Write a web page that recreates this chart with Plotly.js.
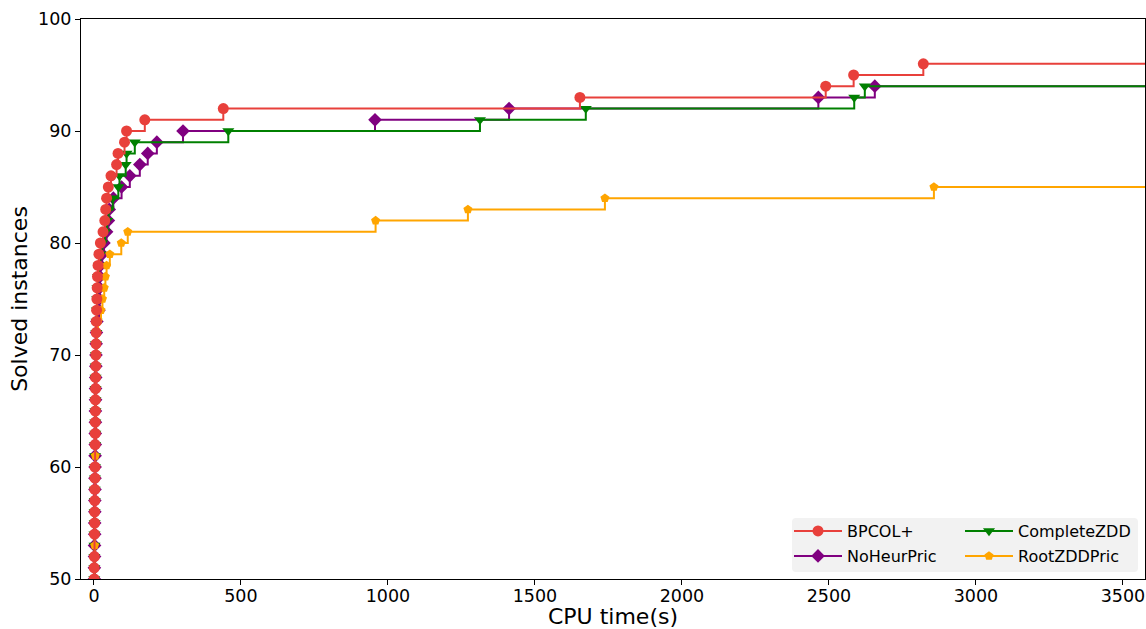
<!DOCTYPE html>
<html>
<head>
<meta charset="utf-8">
<script src="https://cdn.plot.ly/plotly-3.0.1.min.js"></script>
<style>html,body{margin:0;padding:0;background:#fff;}#chart{width:1146px;height:629px;}</style>
</head>
<body>
<div id="chart"></div>
<script>
// CPU time (s) at which each solved-instance count is reached
const bpcolLevels = [50,51,52,54,55,56,57,58,59,60,62,63,64,65,66,67,68,69,70,71,72,73,74,75,76,77,78,79,80,81,82,83,84,85,86,87,88,89,90,91,92,93,94,95,96,96];
const bpcolTimes  = [1,1,1.5,2,2.5,2.5,3,3,3.5,3.5,4,4.5,4.5,5,5,5.5,5.5,6,6.5,7,7.5,8,9,10,11,12,14,17,22,31,37,40,43,49,58,77,82,104,111,173,440,1653,2489,2584,2821,3600];

const noheurLevels = [50,51,52,53,54,55,56,57,58,59,60,61,62,63,64,65,66,67,68,69,70,71,72,73,74,75,76,77,78,79,80,81,82,83,84,85,86,87,88,89,90,91,92,93,94,94];
const noheurTimes  = [1.5,1.5,2,2,2.5,2.5,3,3,3.5,3.5,4,4,4.5,4.5,5,5,5.5,5.5,6,6.5,7,7.5,8.5,10,17,18,19,20,22,28,34,43,49,52,66,94,122,156,183,214,303,956,1412,2464,2656,3600];

const completeLevels = [50,51,52,53,54,55,56,57,58,59,60,61,62,63,64,65,66,67,68,69,70,71,72,73,74,75,76,77,78,79,80,81,82,83,84,85,86,87,88,89,90,91,92,93,94,94];
const completeTimes  = [1,1.5,1.5,2,2,2.5,2.5,3,3,3.5,3.5,4,4,4.5,4.5,5,5,5.5,5.5,6,6.5,7,8,9,10,11,12,14,17,22,28,38,45,50,64,83,87,108,111,139,457,1313,1673,2586,2622,3600];

const rootLevels = [50,51,52,53,54,55,56,57,58,59,60,61,62,63,64,65,66,67,68,69,70,71,72,73,74,75,76,77,78,79,80,81,82,83,84,85,85];
const rootTimes  = [1,1.5,2,2.5,2.5,3,3,3.5,3.5,4,4,4.5,4.5,5,5,5.5,5.5,6,6.5,7,8,9,10,14,24,29,35,39,43,54,93,115,958,1272,1738,2857,3600];

const seriesNames = ['BPCOL+','NoHeurPric','CompleteZDD','RootZDDPric'];
const xTicks = [0,500,1000,1500,2000,2500,3000,3500];
const yTicks = [50,60,70,80,90,100];

const FONT = 'DejaVu Sans, Liberation Sans, sans-serif';

function tr(name, xs, ys, color, symbol, size, legendId) {
  return {
    type: 'scatter', mode: 'lines+markers', name: name,
    x: xs, y: ys,
    line: {shape: 'hv', color: color, width: 2},
    marker: {symbol: symbol, size: size, color: color, line: {width: 0}},
    legend: legendId, cliponaxis: true
  };
}

const data = [
  tr(seriesNames[1], noheurTimes, noheurLevels, '#800080', 'diamond', 10.5, 'legend2'),
  tr(seriesNames[2], completeTimes, completeLevels, '#008000', 'triangle-down', 10.5, 'legend3'),
  tr(seriesNames[3], rootTimes, rootLevels, '#ffa500', 'pentagon', 9.5, 'legend4'),
  tr(seriesNames[0], bpcolTimes, bpcolLevels, '#e8403b', 'circle', 11, 'legend')
];

// plot area: px 81..1145 horizontally, 19..579 vertically
const L = 81, R = 1145, T = 19, B = 579;
function px2paperX(p){ return (p - L) / (R - L); }
function px2paperY(p){ return (B - p) / (B - T); }

const legFont = {family: FONT, size: 16, color: '#000'};
function leg(xpx, ypx) {
  return {x: px2paperX(xpx), y: px2paperY(ypx), xanchor: 'left', yanchor: 'middle',
          bgcolor: 'rgba(0,0,0,0)', borderwidth: 0, font: legFont, itemwidth: 48};
}

// rounded legend background box
const bx0 = px2paperX(792), bx1 = px2paperX(1138), by0 = px2paperY(572), by1 = px2paperY(518);
const rx = 4/(R-L), ry = 4/(B-T);
const boxPath = `M${bx0+rx},${by0} L${bx1-rx},${by0} Q${bx1},${by0} ${bx1},${by0+ry} L${bx1},${by1-ry} Q${bx1},${by1} ${bx1-rx},${by1} L${bx0+rx},${by1} Q${bx0},${by1} ${bx0},${by1-ry} L${bx0},${by0+ry} Q${bx0},${by0} ${bx0+rx},${by0} Z`;

const layout = {
  width: 1146, height: 629,
  margin: {l: L, r: 1146 - R, t: T, b: 629 - B, pad: 0},
  paper_bgcolor: '#fff', plot_bgcolor: '#fff',
  font: {family: FONT, color: '#000'},
  showlegend: true,
  legend: leg(789, 531),
  legend2: leg(789, 556),
  legend3: leg(960, 531),
  legend4: leg(960, 556),
  xaxis: {
    range: [-44, 3575], tickvals: xTicks, ticktext: xTicks.map(String),
    showgrid: false, zeroline: false, showline: true, mirror: true, linecolor: '#000', linewidth: 1,
    ticks: 'outside', ticklen: 5, tickwidth: 1, tickcolor: '#000', ticklabelstandoff: -4,
    tickfont: {family: FONT, size: 17.5, color: '#000'},
    title: {text: 'CPU time(s)', font: {family: FONT, size: 22, color: '#000'}, standoff: 8},
    automargin: false
  },
  yaxis: {
    range: [50, 100], tickvals: yTicks, ticktext: yTicks.map(String),
    showgrid: false, zeroline: false, showline: true, mirror: true, linecolor: '#000', linewidth: 1,
    ticks: 'outside', ticklen: 5, tickwidth: 1, tickcolor: '#000',
    tickfont: {family: FONT, size: 17.5, color: '#000'},
    title: {text: 'Solved instances', font: {family: FONT, size: 22, color: '#000'}, standoff: 4},
    automargin: false
  },
  shapes: [{type: 'path', xref: 'paper', yref: 'paper', path: boxPath,
            fillcolor: '#f2f2f2', line: {width: 0}, layer: 'below'}]
};

Plotly.newPlot('chart', data, layout, {displayModeBar: false, staticPlot: true});
</script>
</body>
</html>
